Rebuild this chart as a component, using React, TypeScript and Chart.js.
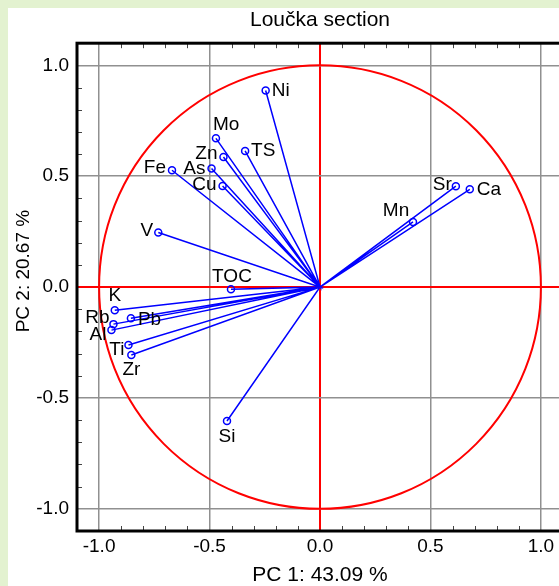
import { useEffect, useRef } from "react";
import { Chart, registerables } from "chart.js";

Chart.register(...registerables);

// ---- data (loadings) ----
const VARIABLES = ["Ni", "Mo", "TS", "Zn", "As", "Cu", "Fe", "V", "TOC", "K", "Rb", "Pb", "Al", "Ti", "Zr", "Si", "Sr", "Ca", "Mn"];
const PC1 = [-0.246, -0.471, -0.339, -0.437, -0.491, -0.441, -0.670, -0.732, -0.403, -0.929, -0.935, -0.856, -0.944, -0.867, -0.854, -0.421, 0.615, 0.678, 0.421];
const PC2 = [0.887, 0.671, 0.614, 0.587, 0.535, 0.456, 0.527, 0.246, -0.010, -0.104, -0.167, -0.141, -0.194, -0.261, -0.306, -0.604, 0.455, 0.441, 0.294];
const TICK_VALUES = [-1, -0.5, 0, 0.5, 1];
const TICK_LABELS = ["-1.0", "-0.5", "0.0", "0.5", "1.0"];
const TITLE = "Loučka section";
const X_TITLE = "PC 1: 43.09 %";
const Y_TITLE = "PC 2: 20.67 %";

// ---- styles ----
const FONT = "'Liberation Sans', Arial, sans-serif";
const BLUE = "#0000ff";
const RED = "#ff0000";
const GRID = "#909090";
const BG_GREEN = "#e3f2d0";
const MINOR_STEP = 0.1;
// label placement per variable: [textAlign, dx, dy] in pixels
const LABEL_PLACE: [CanvasTextAlign, number, number][] = [
  ["left", 6, 0],    // Ni
  ["left", -3, -14], // Mo
  ["left", 6, 0],    // TS
  ["right", -6, -3], // Zn
  ["right", -6, 0],  // As
  ["right", -6, -1], // Cu
  ["right", -6, -2], // Fe
  ["right", -5, -2], // V
  ["center", 1, -13], // TOC
  ["center", 0, -14], // K
  ["right", -4, -6], // Rb
  ["left", 7, 1],    // Pb
  ["right", -5, 5],  // Al
  ["right", -4, 5],  // Ti
  ["center", 0, 15], // Zr
  ["center", 0, 16], // Si
  ["right", -4, -1], // Sr
  ["left", 7, 0],    // Ca
  ["center", -17, -11], // Mn
];

const decor = {
  id: "decor",
  beforeDatasetsDraw(chart: any) {
    const { ctx, chartArea: a, scales } = chart;
    const x = scales.x, y = scales.y;
    ctx.save();
    // minor ticks inside the frame
    ctx.strokeStyle = "#444";
    ctx.lineWidth = 1;
    ctx.beginPath();
    for (let k = -10; k <= 10; k++) {
      if (k % 5 === 0) continue;
      const v = k * MINOR_STEP;
      const px = Math.round(x.getPixelForValue(v)) + 0.5;
      ctx.moveTo(px, a.bottom);
      ctx.lineTo(px, a.bottom - 5);
      ctx.moveTo(px, a.top);
      ctx.lineTo(px, a.top + 5);
      const py = Math.round(y.getPixelForValue(v)) + 0.5;
      ctx.moveTo(a.left, py);
      ctx.lineTo(a.left + 5, py);
    }
    ctx.stroke();
    // unit circle
    const cx = x.getPixelForValue(0), cy = y.getPixelForValue(0);
    const rx = x.getPixelForValue(1) - cx, ry = cy - y.getPixelForValue(1);
    ctx.beginPath();
    ctx.ellipse(cx, cy, rx, ry, 0, 0, Math.PI * 2);
    ctx.strokeStyle = RED;
    ctx.lineWidth = 2;
    ctx.stroke();
    ctx.restore();
  },
  afterDatasetsDraw(chart: any) {
    const { ctx, chartArea: a, scales } = chart;
    const x = scales.x, y = scales.y;
    ctx.save();
    ctx.font = `19px ${FONT}`;
    ctx.fillStyle = "#000";
    ctx.textBaseline = "middle";
    VARIABLES.forEach((name, i) => {
      const [align, dx, dy] = LABEL_PLACE[i];
      ctx.textAlign = align;
      ctx.fillText(name, x.getPixelForValue(PC1[i]) + dx, y.getPixelForValue(PC2[i]) + dy);
    });
    ctx.strokeStyle = "#000";
    ctx.lineWidth = 3;
    ctx.strokeRect(a.left, a.top, a.right - a.left, a.bottom - a.top);
    // y axis title
    ctx.save();
    ctx.translate(16, (a.top + a.bottom) / 2 - 16);
    ctx.rotate(-Math.PI / 2);
    ctx.textAlign = "center";
    ctx.font = `19px ${FONT}`;
    ctx.fillText(Y_TITLE, 0, 0);
    ctx.restore();
    ctx.restore();
  },
};

export default function App() {
  const ref = useRef<HTMLCanvasElement | null>(null);
  useEffect(() => {
    document.body.style.margin = "0";
    const canvas = ref.current!;
    const setTicks = (scale: any) => {
      scale.ticks = TICK_VALUES.map((v) => ({ value: v }));
    };
    const tickFmt = (v: any) => {
      const i = TICK_VALUES.indexOf(Number(v));
      return i >= 0 ? TICK_LABELS[i] : "";
    };
    const gridColor = (c: any) => (c.tick && c.tick.value === 0 ? RED : GRID);
    const gridWidth = (c: any) => (c.tick && c.tick.value === 0 ? 2 : 1.5);
    const chart = new Chart(canvas, {
      type: "scatter",
      data: {
        datasets: [
          {
            type: "line",
            data: VARIABLES.flatMap((_, i) => [
              { x: 0, y: 0 },
              { x: PC1[i], y: PC2[i] },
            ]),
            showLine: true,
            borderColor: BLUE,
            borderWidth: 1.5,
            pointRadius: 0,
            tension: 0,
            fill: false,
          } as any,
          {
            data: VARIABLES.map((_, i) => ({ x: PC1[i], y: PC2[i] })),
            pointRadius: 3.5,
            pointBorderWidth: 1.5,
            borderColor: BLUE,
            backgroundColor: "rgba(255,255,255,0)",
          },
        ],
      },
      options: {
        responsive: false,
        animation: false,
        devicePixelRatio: 1,
        layout: { padding: { left: 0, right: 15, top: 0, bottom: 0 } },
        plugins: {
          legend: { display: false },
          tooltip: { enabled: false },
          title: {
            display: true,
            text: TITLE,
            fullSize: false,
            color: "#000",
            font: { family: FONT, size: 21, weight: "normal" },
            padding: { top: 0, bottom: 10 },
          },
        },
        scales: {
          x: {
            type: "linear",
            min: -1.1,
            max: 1.1,
            afterBuildTicks: setTicks,
            afterFit: (s: any) => {
              s.height = 67;
            },
            grid: { color: gridColor, lineWidth: gridWidth, drawTicks: false },
            border: { display: false },
            ticks: { callback: tickFmt, color: "#000", padding: 4, font: { family: FONT, size: 19 }, maxRotation: 0, autoSkip: false },
            title: { display: true, text: X_TITLE, color: "#000", font: { family: FONT, size: 21 }, padding: { top: 0, bottom: 10 } },
          },
          y: {
            type: "linear",
            min: -1.1,
            max: 1.1,
            afterBuildTicks: setTicks,
            afterFit: (s: any) => {
              s.width = 69;
            },
            grid: { color: gridColor, lineWidth: gridWidth, drawTicks: false },
            border: { display: false },
            ticks: { callback: tickFmt, color: "#000", padding: 8, font: { family: FONT, size: 19 }, autoSkip: false },
            title: { display: false },
          },
        },
      } as any,
      plugins: [decor],
    });
    return () => chart.destroy();
  }, []);

  return (
    <div style={{ position: "relative", width: 559, height: 586, background: BG_GREEN, overflow: "hidden" }}>
      <div style={{ position: "absolute", left: 8, top: 8, right: 0, bottom: 0, background: "#fff", overflow: "hidden" }}>
        <canvas ref={ref} width={570} height={590} style={{ display: "block", width: 570, height: 590 }} />
      </div>
    </div>
  );
}
